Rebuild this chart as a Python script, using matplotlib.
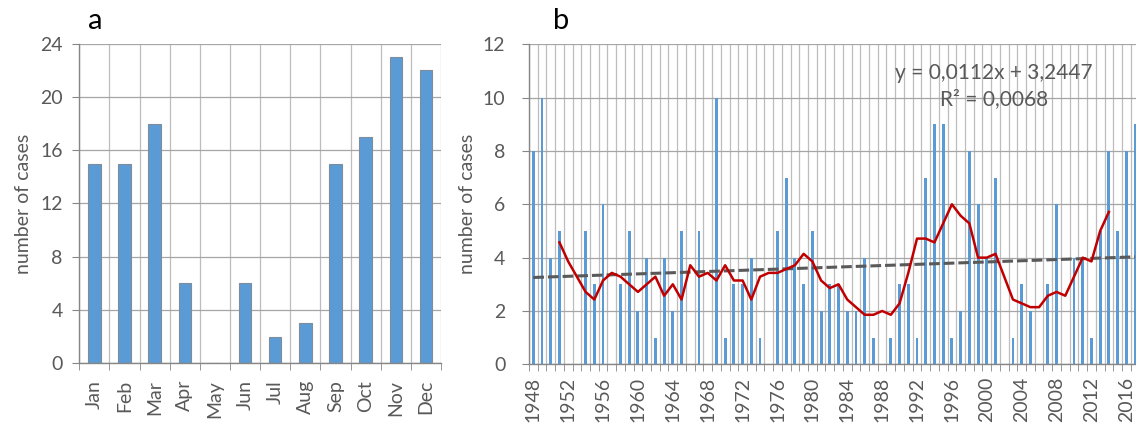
import numpy as np
import pandas as pd
import matplotlib
matplotlib.use("Agg")
import matplotlib.pyplot as plt

plt.rcParams['font.family'] = ['Lato', 'DejaVu Sans']

# panel a: monthly totals
months = ['Jan', 'Feb', 'Mar', 'Apr', 'May', 'Jun', 'Jul', 'Aug', 'Sep', 'Oct', 'Nov', 'Dec']
month_cases = [15, 15, 18, 6, 0, 6, 2, 3, 15, 17, 23, 22]

# panel b: yearly totals 1948-2017
years = list(range(1948, 2018))
year_cases = [8, 10, 4, 5, 0, 0, 5, 3, 6, 0,
              3, 5, 2, 4, 1, 4, 2, 5, 0, 5,
              0, 10, 1, 3, 3, 4, 1, 0, 5, 7,
              4, 3, 5, 2, 3, 3, 2, 2, 4, 1,
              0, 1, 3, 3, 1, 7, 9, 9, 1, 2,
              8, 6, 4, 7, 0, 1, 3, 2, 0, 3,
              6, 0, 4, 4, 1, 5, 8, 5, 8, 9]

# linear trend as printed on the chart (x = 1 for the first year)
slope, intercept = 0.0112, 3.2447
trend_text = "y = 0,0112x + 3,2447\nR² = 0,0068"

BLUE = '#5B9BD5'
GRID = '#a6a6a6'
TXT = '#595959'
AXC = '#868686'
FS = 14

fig = plt.figure(figsize=(11.36, 4.25), dpi=100)


def style_axes(ax):
    for s in ['top', 'right']:
        ax.spines[s].set_visible(False)
    for s in ['left', 'bottom']:
        ax.spines[s].set_color(AXC)
        ax.spines[s].set_linewidth(1.0)
    ax.grid(axis='y', which='major', color=GRID, lw=0.9)
    ax.grid(axis='x', which='minor', color='#bdbdbd', lw=0.9)
    ax.set_axisbelow(True)
    ax.tick_params(axis='y', which='major', length=5, color=AXC, labelcolor=TXT, labelsize=FS)
    ax.tick_params(axis='x', which='major', length=0, labelcolor=TXT, labelsize=FS, labelrotation=90)
    ax.tick_params(axis='x', which='minor', length=5, color=AXC)


# ---- panel a
axa = fig.add_axes([0.0698, 0.1452, 0.3184, 0.752])
xa = np.arange(len(months))
axa.bar(xa, month_cases, width=0.41, color=BLUE, edgecolor='#7f8c99', lw=0.8, zorder=2)
axa.set_xlim(-0.5, len(months) - 0.5)
axa.set_ylim(0, 24)
axa.set_yticks(range(0, 25, 4))
axa.set_xticks(xa)
axa.set_xticklabels(months)
axa.set_xticks(np.arange(len(months) + 1) - 0.5, minor=True)
style_axes(axa)
axa.tick_params(axis='y', pad=7)
axa.tick_params(axis='x', which='major', pad=12)
axa.set_ylabel('number of cases', color=TXT, fontsize=FS, labelpad=6)
fig.text(88 / 1136, 1 - 29 / 425, 'a', fontsize=21, color='black')

# ---- panel b
axb = fig.add_axes([0.4656, 0.1428, 0.5374, 0.753])
yr = np.array(years)
axb.bar(yr, year_cases, width=0.33, color=BLUE, zorder=2)
ma = pd.Series(year_cases, index=yr).rolling(7, center=True).mean()
axb.plot(ma.index, ma.values, color='#C00000', lw=1.8, zorder=4)
idx = yr - yr[0] + 1
axb.plot(yr, slope * idx + intercept, color='#595959', lw=2.2, dashes=(3.5, 1.3), zorder=3)
axb.set_xlim(yr[0] - 0.5, yr[-1] + 0.5)
axb.set_ylim(0, 12)
axb.set_yticks(range(0, 13, 2))
axb.set_xticks(yr[::4])
axb.set_xticklabels([str(y) for y in yr[::4]])
axb.set_xticks(np.append(yr, yr[-1] + 1) - 0.5, minor=True)
style_axes(axb)
axb.tick_params(axis='y', pad=12)
axb.tick_params(axis='x', which='major', pad=9)
axb.set_ylabel('number of cases', color=TXT, fontsize=FS, labelpad=5)
axb.text(0.762, 0.94, trend_text, transform=axb.transAxes, ha='center', va='top',
         fontsize=15, color=TXT, linespacing=1.35, zorder=5)
fig.text(553 / 1136, 1 - 29 / 425, 'b', fontsize=21, color='black')

fig.savefig('out.png', dpi=100)
